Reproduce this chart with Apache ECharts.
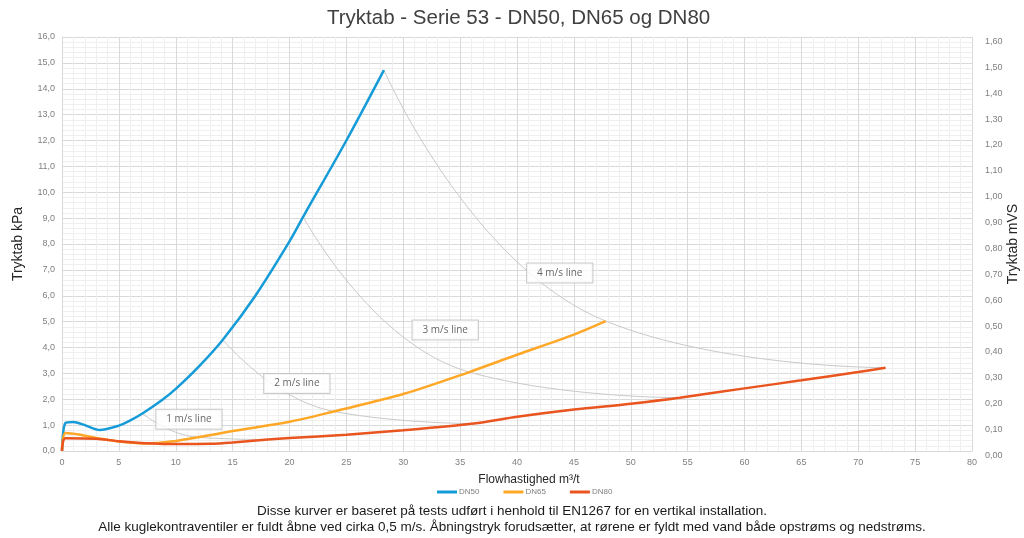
<!DOCTYPE html>
<html>
<head>
<meta charset="utf-8">
<title>Tryktab - Serie 53</title>
<script src="https://cdn.jsdelivr.net/npm/echarts@6/dist/echarts.min.js"></script>
<style>
  html, body { margin: 0; padding: 0; background: #ffffff; }
  #chart { width: 1024px; height: 538px; }
</style>
</head>
<body>
<div id="chart"></div>
<script>
// Flow (m³/t) and pressure drop (kPa) for each valve size
const dn50Flow = [0, 0.3, 1, 2, 3.3, 5, 6, 7.07, 8.8, 10, 12, 14.14, 17, 20, 21.2, 25, 28.3];
const dn50Drop = [0, 1.08, 1.12, 1.0, 0.81, 0.98, 1.18, 1.45, 1.97, 2.4, 3.25, 4.3, 6.0, 8.1, 9.05, 12.0, 14.72];

const dn65Flow = [0, 0.3, 1.5, 3, 5, 7.5, 10, 11.95, 15, 20, 23.9, 30, 35.8, 40, 45, 47.8];
const dn65Drop = [0, 0.7, 0.64, 0.5, 0.37, 0.29, 0.39, 0.53, 0.77, 1.13, 1.53, 2.2, 3.05, 3.72, 4.5, 5.02];

const dn80Flow = [0, 0.3, 3, 5, 8, 10, 13, 15, 18.1, 20, 25, 30, 36.2, 40, 45, 50, 54.3, 60, 65, 70, 72.4];
const dn80Drop = [0, 0.49, 0.47, 0.38, 0.29, 0.27, 0.28, 0.33, 0.44, 0.5, 0.63, 0.8, 1.06, 1.32, 1.6, 1.83, 2.06, 2.42, 2.73, 3.05, 3.22];

// Constant-velocity lines: flow and drop where each size reaches 1-4 m/s
const speedNames = ['1 m/s line', '2 m/s line', '3 m/s line', '4 m/s line'];
const speedFlow50 = [7.07, 14.14, 21.2, 28.3];
const speedDrop50 = [1.45, 4.3, 9.05, 14.72];
const speedFlow65 = [11.95, 23.9, 35.8, 47.8];
const speedDrop65 = [0.53, 1.53, 3.05, 5.02];
const speedFlow80 = [18.1, 36.2, 54.3, 72.4];
const speedDrop80 = [0.44, 1.06, 2.06, 3.22];

const seriesNames = ['DN50', 'DN65', 'DN80'];
const seriesColors = ['#159bd7', '#ffa726', '#e9541f'];

const comma = (v, d) => v.toFixed(d).replace('.', ',');
const pairs = (xs, ys) => xs.map((x, i) => [x, ys[i]]);

// label box placement relative to the DN65 point of each velocity line
const labelOffsets = [[-9, -18], [-37, -28], [-24, -42], [-46, -48]];

const FONT = '"Liberation Sans", Arial, sans-serif';

const speedSeries = speedNames.map((name, i) => ({
  name: name,
  type: 'line',
  smooth: 0.5,
  showSymbol: false,
  silent: true,
  z: 1,
  lineStyle: { color: '#c9c9c9', width: 1 },
  data: [
    [speedFlow50[i], speedDrop50[i]],
    [speedFlow65[i], speedDrop65[i]],
    [speedFlow80[i], speedDrop80[i]]
  ]
}));

const speedLabels = {
  name: 'speedLabels',
  type: 'scatter',
  symbolSize: 1,
  silent: true,
  z: 5,
  itemStyle: { color: 'rgba(0,0,0,0)' },
  data: speedNames.map((name, i) => ({
    value: [speedFlow65[i], speedDrop65[i]],
    label: {
      show: true,
      position: 'inside',
      offset: labelOffsets[i],
      formatter: name,
      backgroundColor: '#ffffff',
      borderColor: '#bfbfbf',
      borderWidth: 1,
      padding: [5, 10, 4, 10],
      color: '#404040',
      fontSize: 10,
      fontFamily: '"Open Sans", ' + FONT
    }
  }))
};

const flows = [dn50Flow, dn65Flow, dn80Flow];
const drops = [dn50Drop, dn65Drop, dn80Drop];
const mainSeries = seriesNames.map((name, i) => ({
  name: name,
  type: 'line',
  smooth: 0.3,
  showSymbol: false,
  z: 3,
  color: seriesColors[i],
  lineStyle: { color: seriesColors[i], width: 2.5 },
  data: pairs(flows[i], drops[i])
}));

const chart = echarts.init(document.getElementById('chart'), null, { renderer: 'canvas' });

chart.setOption({
  animation: false,
  backgroundColor: '#ffffff',
  textStyle: { fontFamily: FONT },
  title: {
    text: 'Tryktab - Serie 53 - DN50, DN65 og DN80',
    left: 322,
    top: 3,
    textStyle: { fontFamily: FONT, fontSize: 20.5, fontWeight: 'normal', color: '#404040' }
  },
  grid: { left: 62, right: 52, top: 37, bottom: 87, containLabel: false, outerBoundsMode: 'none' },
  legend: {
    data: seriesNames,
    top: 483,
    left: 432,
    icon: 'rect',
    itemWidth: 20,
    itemHeight: 3,
    itemGap: 24,
    textStyle: { fontSize: 8, color: '#7f7f7f', fontFamily: FONT, padding: [0, 0, 0, -3] }
  },
  xAxis: {
    type: 'value',
    min: 0,
    max: 80,
    interval: 5,
    name: 'Flowhastighed m³/t',
    nameLocation: 'middle',
    nameGap: 23,
    nameTextStyle: { fontSize: 12, color: '#262626', padding: [0, 0, 0, 24], fontFamily: FONT },
    axisLine: { show: true, lineStyle: { color: '#d9d9d9' } },
    axisTick: { show: false },
    axisLabel: { fontSize: 9, color: '#7f7f7f', margin: 7 },
    splitLine: { show: true, lineStyle: { color: '#d9d9d9', width: 1 } },
    minorTick: { show: false, splitNumber: 5 },
    minorSplitLine: { show: true, lineStyle: { color: '#efefef', width: 1 } }
  },
  yAxis: [
    {
      type: 'value',
      min: 0,
      max: 16,
      interval: 1,
      name: 'Tryktab kPa',
      nameLocation: 'middle',
      nameRotate: 90,
      nameGap: 37,
      nameTextStyle: { fontSize: 14, color: '#262626', fontFamily: FONT },
      axisLine: { show: true, lineStyle: { color: '#d9d9d9' } },
      axisTick: { show: false },
      axisLabel: { fontSize: 9, color: '#7f7f7f', margin: 7, formatter: v => comma(v, 1) },
      splitLine: { show: true, lineStyle: { color: '#d9d9d9', width: 1 } },
      minorTick: { show: false, splitNumber: 5 },
      minorSplitLine: { show: true, lineStyle: { color: '#efefef', width: 1 } }
    },
    {
      type: 'value',
      position: 'right',
      min: 0,
      max: 1.6,
      interval: 0.1,
      name: 'Tryktab mVS',
      nameLocation: 'middle',
      nameRotate: 90,
      nameGap: 34,
      nameMoveOverlap: false,
      nameTextStyle: { fontSize: 14, color: '#262626', fontFamily: FONT },
      axisLine: { show: false },
      axisTick: { show: false },
      axisLabel: { fontSize: 9, color: '#7f7f7f', margin: 13, verticalAlign: 'top', formatter: v => comma(v, 2) },
      splitLine: { show: false }
    }
  ],
  graphic: [
    {
      type: 'text',
      left: 'center',
      top: 504,
      style: {
        text: 'Disse kurver er baseret på tests udført i henhold til EN1267 for en vertikal installation.',
        font: '13.5px ' + FONT,
        fill: '#1a1a1a'
      }
    },
    {
      type: 'text',
      left: 'center',
      top: 520,
      style: {
        text: 'Alle kuglekontraventiler er fuldt åbne ved cirka 0,5 m/s. Åbningstryk forudsætter, at rørene er fyldt med vand både opstrøms og nedstrøms.',
        font: '13.5px ' + FONT,
        fill: '#1a1a1a'
      }
    }
  ],
  series: [...speedSeries, speedLabels, ...mainSeries]
});
</script>
</body>
</html>
